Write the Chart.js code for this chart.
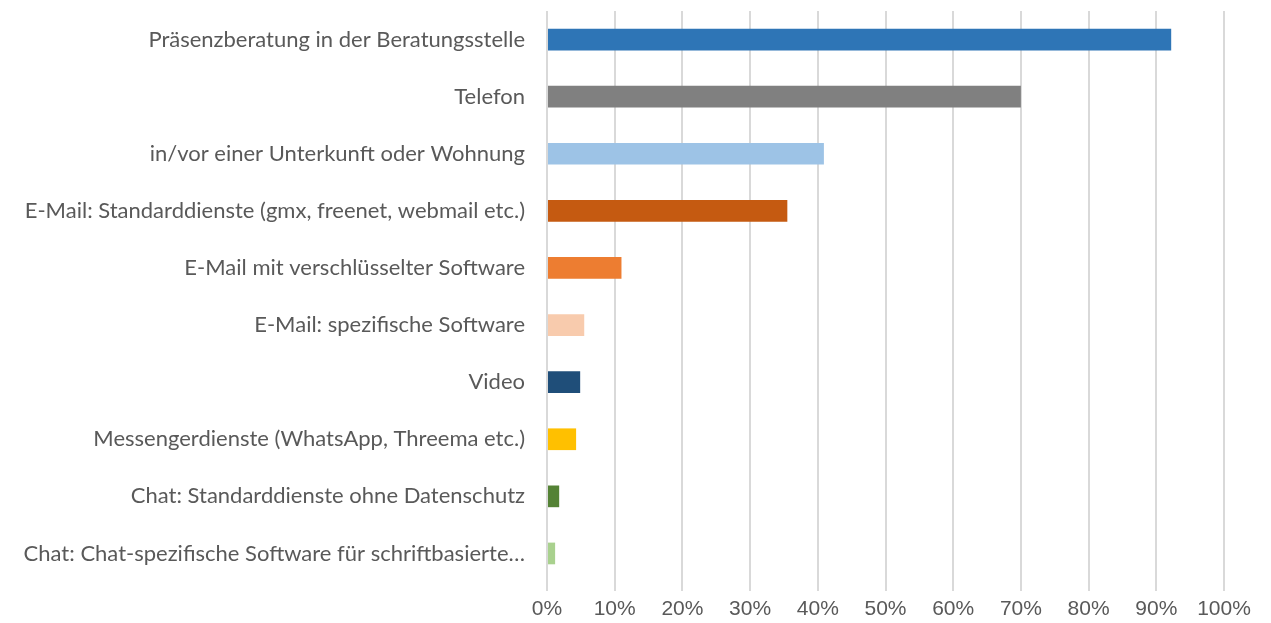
<!DOCTYPE html>
<html>
<head>
<meta charset="utf-8">
<script src="https://cdn.jsdelivr.net/npm/chart.js@4/dist/chart.umd.min.js"></script>
<style>
  html, body { margin: 0; padding: 0; background: #fff; }
  #wrap { width: 1271px; height: 623px; }
</style>
</head>
<body>
<div id="wrap"><canvas id="myChart" width="1271" height="623"></canvas></div>
<script>
'use strict';

const categories = [
  'Präsenzberatung in der Beratungsstelle',
  'Telefon',
  'in/vor einer Unterkunft oder Wohnung',
  'E-Mail: Standarddienste (gmx, freenet, webmail etc.)',
  'E-Mail mit verschlüsselter Software',
  'E-Mail: spezifische Software',
  'Video',
  'Messengerdienste (WhatsApp, Threema etc.)',
  'Chat: Standarddienste ohne Datenschutz',
  'Chat: Chat-spezifische Software für schriftbasierte…'
];
const values = [92.2, 70.0, 40.9, 35.5, 11.0, 5.5, 4.9, 4.3, 1.8, 1.2];
const barColors = ['#2E75B6', '#808080', '#9DC3E6', '#C55A11', '#ED7D31',
                   '#F8CBAD', '#1F4E79', '#FFC000', '#548235', '#A9D18E'];
const xTicks = [0, 10, 20, 30, 40, 50, 60, 70, 80, 90, 100];

const ctx = document.getElementById('myChart').getContext('2d');

const myChart = new Chart(ctx, {
  type: 'bar',
  data: {
    labels: categories,
    datasets: [{
      data: values,
      backgroundColor: barColors,
      borderWidth: 0,
      barPercentage: 0.76,
      categoryPercentage: 0.5
    }]
  },
  options: {
    indexAxis: 'y',
    responsive: false,
    animation: false,
    layout: { padding: { left: 0, right: 47, top: 11, bottom: 0 } },
    plugins: { legend: { display: false }, tooltip: { enabled: false } },
    scales: {
      x: {
        min: 0,
        max: 100,
        afterBuildTicks: (scale) => { scale.ticks = xTicks.map(v => ({ value: v })); },
        afterFit: (scale) => { scale.height = 41; },
        border: { display: false },
        grid: { color: '#D9D9D9', lineWidth: 2, tickLength: 9, drawTicks: true },
        ticks: {
          color: '#595959',
          font: { family: 'Liberation Sans', size: 21 },
          padding: 6,
          maxRotation: 0,
          callback: (v) => v + '%'
        }
      },
      y: {
        afterFit: (scale) => {
          scale.width = 547;
          scale.paddingTop = 0;
          scale.paddingBottom = 0;
        },
        border: { display: false },
        grid: { display: false },
        ticks: {
          color: '#595959',
          font: { family: 'Lato', size: 22 },
          padding: 14,
          autoSkip: false
        }
      }
    }
  }
});
</script>
</body>
</html>
